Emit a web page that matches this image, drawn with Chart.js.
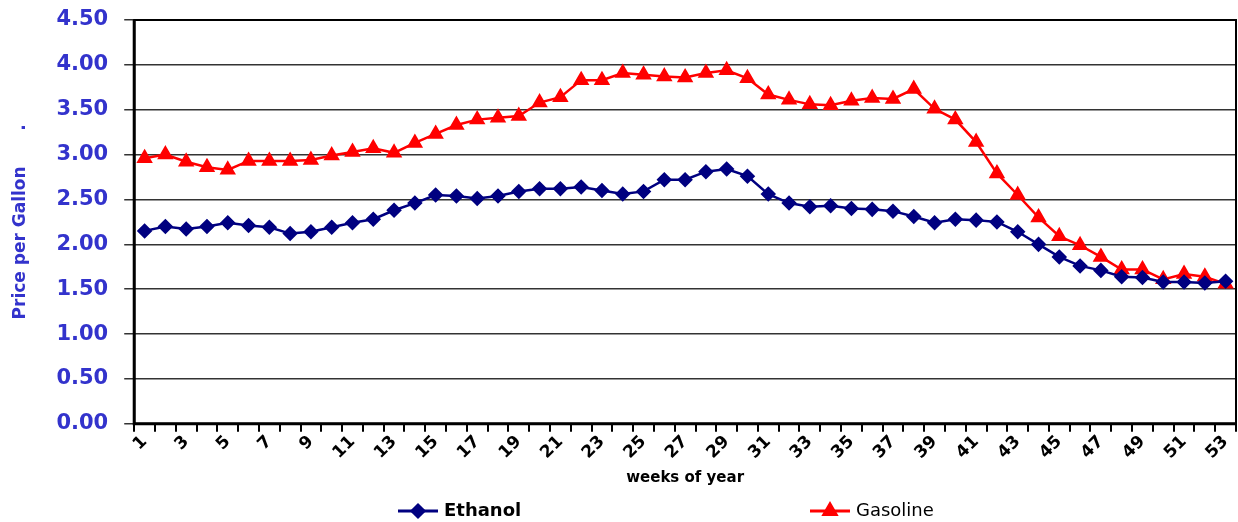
<!DOCTYPE html>
<html>
<head>
<meta charset="utf-8">
<script src="https://cdn.jsdelivr.net/npm/chart.js@4.4.0/dist/chart.umd.min.js"></script>
<style>
  html, body { margin: 0; background: #fff; overflow: hidden; }
  #wrap { width: 1238px; height: 522px; }
</style>
</head>
<body>
<div id="wrap"><canvas id="myChart"></canvas></div>
<script>
// weeks 1..53
const weeks = [];
for (let w = 1; w <= 53; w++) weeks.push(String(w));

const ethanol = [2.15, 2.20, 2.17, 2.20, 2.24, 2.21, 2.19, 2.12, 2.14, 2.19, 2.24, 2.28, 2.38, 2.46,
  2.55, 2.54, 2.51, 2.54, 2.59, 2.62, 2.62, 2.64, 2.60, 2.56, 2.59, 2.72, 2.72, 2.81, 2.84, 2.76,
  2.56, 2.46, 2.42, 2.43, 2.40, 2.39, 2.37, 2.31, 2.24, 2.28, 2.27, 2.25, 2.14, 2.00, 1.86, 1.76,
  1.71, 1.64, 1.63, 1.58, 1.58, 1.57, 1.59];

const gasoline = [2.96, 3.00, 2.92, 2.86, 2.83, 2.93, 2.93, 2.93, 2.94, 2.99, 3.03, 3.07, 3.02, 3.13,
  3.23, 3.33, 3.39, 3.41, 3.43, 3.58, 3.64, 3.83, 3.83, 3.91, 3.89, 3.87, 3.86, 3.91, 3.94, 3.85,
  3.67, 3.61, 3.56, 3.55, 3.60, 3.63, 3.62, 3.73, 3.51, 3.39, 3.14, 2.79, 2.55, 2.30, 2.09, 1.99,
  1.86, 1.72, 1.72, 1.61, 1.67, 1.64, 1.56];

const yTicks = [0, 0.5, 1, 1.5, 2, 2.5, 3, 3.5, 4, 4.5];

const FONT = "'DejaVu Sans', Arial, sans-serif";

// frame round the plot + legend under the chart
const framePlugin = {
  id: 'frame',
  afterDraw(chart) {
    const { ctx, chartArea: a } = chart;
    ctx.save();
    ctx.strokeStyle = '#000';
    ctx.lineWidth = 2;
    ctx.strokeRect(a.left, a.top, a.right - a.left, a.bottom - a.top);
    ctx.lineWidth = 3;
    ctx.beginPath();
    ctx.moveTo(a.left, a.top);
    ctx.lineTo(a.left, a.bottom);
    ctx.lineTo(a.right, a.bottom);
    ctx.stroke();

    // legend
    const items = [
      { ds: chart.data.datasets[0], x: 398, bold: true },
      { ds: chart.data.datasets[1], x: 810, bold: false }
    ];
    const y = 511;
    items.forEach(it => {
      ctx.strokeStyle = it.ds.borderColor;
      ctx.lineWidth = 3;
      ctx.beginPath();
      ctx.moveTo(it.x, y);
      ctx.lineTo(it.x + 40, y);
      ctx.stroke();
      ctx.fillStyle = it.ds.borderColor;
      Chart.helpers.drawPoint(ctx, {
        pointStyle: it.ds.pointStyle,
        radius: it.ds.pointRadius,
        borderWidth: 1
      }, it.x + 20, y);
      ctx.fillStyle = '#000';
      ctx.font = (it.bold ? 'bold ' : '') + '18px ' + FONT;
      ctx.textBaseline = 'middle';
      ctx.textAlign = 'left';
      ctx.fillText(it.ds.label, it.x + 46, y);
    });
    ctx.restore();
  }
};

const chartArea = document.getElementById('myChart').getContext('2d');

const myChart = new Chart(chartArea, {
  type: 'line',
  data: {
    labels: weeks,
    datasets: [
      {
        label: 'Ethanol',
        data: ethanol,
        borderColor: '#000080',
        backgroundColor: '#000080',
        borderWidth: 2.5,
        pointStyle: 'rectRot',
        pointRadius: 6,
        pointHoverRadius: 6,
        tension: 0
      },
      {
        label: 'Gasoline',
        data: gasoline,
        borderColor: '#ff0000',
        backgroundColor: '#ff0000',
        borderWidth: 2.5,
        pointStyle: 'triangle',
        pointRadius: 7,
        pointHoverRadius: 7,
        tension: 0
      }
    ]
  },
  options: {
    responsive: true,
    maintainAspectRatio: false,
    animation: false,
    layout: { autoPadding: false, padding: { left: 10, right: 2, top: 20, bottom: 35 } },
    plugins: {
      legend: { display: false },
      tooltip: { enabled: false }
    },
    scales: {
      x: {
        type: 'category',
        offset: true,
        afterFit(scale) { scale.paddingLeft = 0; scale.paddingRight = 0; },
        grid: {
          offset: true,
          drawOnChartArea: false,
          color: '#000',
          lineWidth: 2,
          tickLength: 8
        },
        border: { display: false },
        ticks: {
          autoSkip: false,
          maxRotation: 45,
          minRotation: 45,
          color: '#000',
          font: { family: FONT, size: 17, weight: 'bold' },
          padding: 0,
          callback(v, i) { return (i % 2 === 0) ? weeks[i] : ''; }
        },
        title: {
          display: true,
          text: 'weeks of year',
          color: '#000',
          font: { family: FONT, size: 15, weight: 'bold' },
          padding: { top: 6, bottom: 0 }
        }
      },
      y: {
        min: 0,
        max: 4.5,
        afterFit(scale) { scale.paddingTop = 0; scale.paddingBottom = 0; },
        afterBuildTicks(scale) { scale.ticks = yTicks.map(v => ({ value: v })); },
        grid: {
          color: '#333',
          lineWidth: 1.5,
          tickLength: 10
        },
        border: { display: false },
        ticks: {
          color: '#3333cc',
          font: { family: FONT, size: 21, weight: 'bold' },
          padding: 16,
          callback(v) { return Number(v).toFixed(2); }
        },
        title: {
          display: true,
          text: 'Price per Gallon      .',
          color: '#3333cc',
          font: { family: FONT, size: 17, weight: 'bold' },
          padding: { top: 0, bottom: 10 }
        }
      }
    }
  },
  plugins: [framePlugin]
});
</script>
</body>
</html>
